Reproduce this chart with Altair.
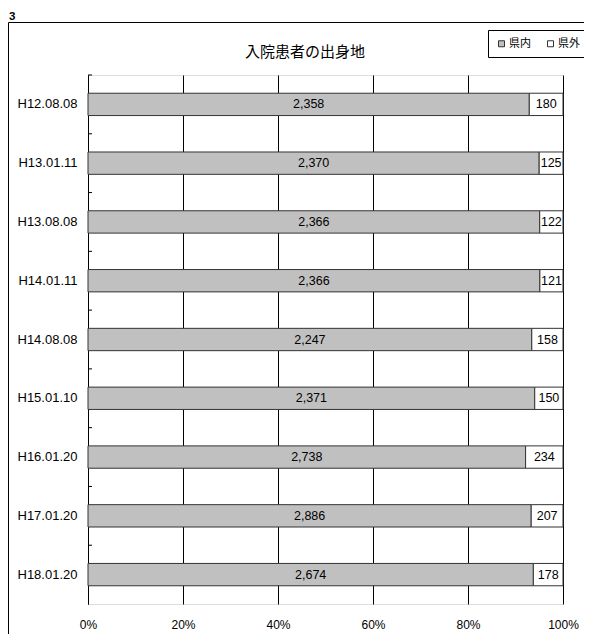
import altair as alt
import pandas as pd

# ---- data ----
dates = ["H12.08.08", "H13.01.11", "H13.08.08", "H14.01.11", "H14.08.08",
         "H15.01.10", "H16.01.20", "H17.01.20", "H18.01.20"]
inside = [2358, 2370, 2366, 2366, 2247, 2371, 2738, 2886, 2674]   # 県内
outside = [180, 125, 122, 121, 158, 150, 234, 207, 178]           # 県外
series = ["県内", "県外"]
series_colors = ["#C0C0C0", "#FFFFFF"]
x_ticks = [0, 0.2, 0.4, 0.6, 0.8, 1.0]
title_text = "入院患者の出身地"
corner_label = "3"

rows = []
for d, a, b in zip(dates, inside, outside):
    rows.append({"date": d, "group": series[0], "order": 0, "value": a})
    rows.append({"date": d, "group": series[1], "order": 1, "value": b})
df = pd.DataFrame(rows)

FONT = "Liberation Sans, Arial, sans-serif"
JFONT = "Noto Sans CJK JP"

W, H = 475, 529
STEP = H / len(dates)

xscale = alt.Scale(domain=[0, 1], nice=False, zero=True)
yscale = alt.Scale(paddingInner=0.62, paddingOuter=0.31)

base = alt.Chart(df).transform_stack(
    stack="value", groupby=["date"], as_=["x0", "x1"], offset="normalize",
    sort=[alt.SortField("order", "ascending")]
).transform_calculate(mid="(datum.x0 + datum.x1) / 2")

yenc = alt.Y("date:N", sort=dates, scale=yscale,
             axis=alt.Axis(title=None, ticks=False, labelPadding=11, labelFontSize=13,
                           labelFont=FONT, labelFontWeight="normal", labelColor="black",
                           domainColor="black", domainWidth=1, grid=False))

bars = base.mark_bar(stroke="#333333", strokeWidth=1).encode(
    x=alt.X("x0:Q", scale=xscale,
            axis=alt.Axis(title=None, format="%", values=x_ticks, ticks=False, domain=False,
                          grid=True, gridColor="black", gridOpacity=1, gridWidth=1,
                          labelFlush=False, labelPadding=15, labelFontSize=12, labelFont=FONT,
                          labelFontWeight="normal", labelColor="black")),
    x2="x1:Q",
    y=yenc,
    color=alt.Color("group:N", scale=alt.Scale(domain=series, range=series_colors),
                    legend=alt.Legend(title=None, orient="none", legendX=400, legendY=-45,
                                      direction="horizontal", symbolType="square",
                                      symbolSize=36, symbolStrokeColor="#333333",
                                      symbolStrokeWidth=1, labelFont=JFONT, labelFontSize=11,
                                      labelColor="black", labelOffset=2, columnPadding=14,
                                      strokeColor="black", fillColor="white", padding=8)),
)

labels = base.mark_text(fontSize=12.5, font=FONT, color="black").encode(
    x=alt.X("mid:Q", scale=xscale),
    y=alt.Y("date:N", sort=dates),
    text=alt.Text("value:Q", format=","),
)

cat_ticks = alt.Chart(pd.DataFrame({"date": dates})).mark_rule(
    color="black", strokeWidth=1, yOffset=-STEP / 2
).encode(
    y=alt.Y("date:N", sort=dates),
    x=alt.value(0), x2=alt.value(4),
)

deco = pd.DataFrame({"a": [0]})
frame_top = alt.Chart(deco).mark_rule(color="black", strokeWidth=1).encode(
    x=alt.value(-79.5), x2=alt.value(520), y=alt.value(-52.5))
frame_left = alt.Chart(deco).mark_rule(color="black", strokeWidth=1).encode(
    x=alt.value(-79.5), y=alt.value(-52.5), y2=alt.value(600))
corner = alt.Chart(deco).mark_text(text=corner_label, font=FONT, fontSize=11.5,
                                   fontWeight="bold", align="left", baseline="alphabetic",
                                   color="black").encode(
    x=alt.value(-79), y=alt.value(-55.5))
title = alt.Chart(deco).mark_text(text=title_text, font=JFONT, fontSize=15,
                                  fontWeight="normal", align="center", baseline="middle",
                                  color="black").encode(
    x=alt.value(217), y=alt.value(-23))

chart = alt.layer(frame_top, frame_left, corner, title, bars, labels, cat_ticks).properties(
    width=W, height=H,
    autosize=alt.AutoSizeParams(type="none"),
    padding={"left": 80, "top": 67, "right": 21, "bottom": 30},
).configure_view(stroke="black", strokeWidth=1).configure(background="white")

chart.save("out.html", embed_options={"renderer": "svg", "actions": False})
